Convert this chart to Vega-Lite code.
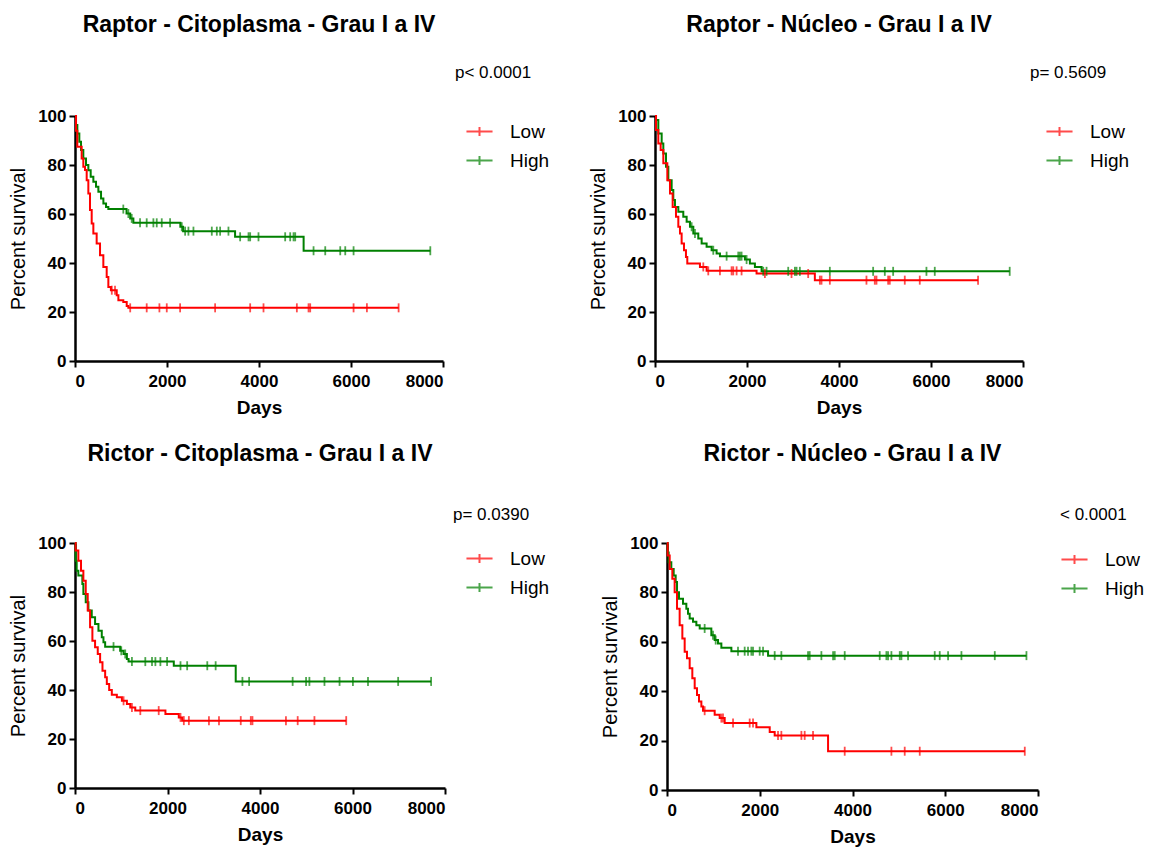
{
"$schema": "https://vega.github.io/schema/vega-lite/v6.json",
"background": "white",
"padding": {"left": 8, "top": 14, "right": 2, "bottom": 2},
"config": {
  "font": "Liberation Sans",
  "view": {"stroke": null},
  "axis": {"domainColor": "black", "domainWidth": 2.5, "tickColor": "black", "tickWidth": 2, "tickSize": 6, "labelFont": "Liberation Sans", "labelFontWeight": "bold", "labelFontSize": 17, "labelColor": "black", "labelPadding": 3, "grid": false, "titleColor": "black", "titleFont": "Liberation Sans", "format": "d"},
  "axisX": {"titleFontWeight": "bold", "titleFontSize": 19, "titlePadding": 9, "labelPadding": 6},
  "axisY": {"titleFontWeight": "normal", "titleFontSize": 20, "titlePadding": 9},
  "title": {"fontSize": 23, "fontWeight": "bold", "color": "black", "frame": "group", "anchor": "middle", "font": "Liberation Sans"},
  "legend": {"orient": "none", "titleFontSize": 17, "titleFontWeight": "normal", "titleColor": "black", "titleFont": "Liberation Sans", "labelFontSize": 19, "labelColor": "black", "labelFont": "Liberation Sans", "symbolType": "M-2,0H2M0,-0.7V0.7", "symbolSize": 170, "symbolStrokeWidth": 2, "rowPadding": 9, "labelOffset": 21, "padding": 0, "titleLimit": 300}
},
"datasets": {
"p1": [
{"g":"High","d":0,"s":100,"c":0},{"g":"High","d":22,"s":96.3,"c":0},{"g":"High","d":51,"s":92.9,"c":0},{"g":"High","d":94,"s":89.5,"c":0},{"g":"High","d":131,"s":86.1,"c":0},{"g":"High","d":181,"s":82.7,"c":0},{"g":"High","d":239,"s":80.0,"c":0},{"g":"High","d":290,"s":77.9,"c":0},{"g":"High","d":341,"s":75.2,"c":0},{"g":"High","d":399,"s":73.2,"c":0},{"g":"High","d":457,"s":71.1,"c":0},{"g":"High","d":508,"s":69.1,"c":0},{"g":"High","d":566,"s":66.3,"c":0},{"g":"High","d":617,"s":64.3,"c":0},{"g":"High","d":675,"s":62.9,"c":0},{"g":"High","d":725,"s":62.0,"c":0},{"g":"High","d":1050,"s":62.0,"c":1},{"g":"High","d":1120,"s":60.2,"c":0},{"g":"High","d":1160,"s":60.2,"c":1},{"g":"High","d":1200,"s":58.2,"c":0},{"g":"High","d":1233,"s":58.2,"c":1},{"g":"High","d":1269,"s":56.4,"c":0},{"g":"High","d":1414,"s":56.4,"c":1},{"g":"High","d":1559,"s":56.4,"c":1},{"g":"High","d":1704,"s":56.4,"c":1},{"g":"High","d":1777,"s":56.4,"c":1},{"g":"High","d":1886,"s":56.4,"c":1},{"g":"High","d":2067,"s":56.4,"c":1},{"g":"High","d":2290,"s":54.8,"c":0},{"g":"High","d":2321,"s":54.8,"c":1},{"g":"High","d":2350,"s":53.0,"c":0},{"g":"High","d":2394,"s":53.0,"c":1},{"g":"High","d":2466,"s":53.0,"c":1},{"g":"High","d":2575,"s":53.0,"c":1},{"g":"High","d":2974,"s":53.0,"c":1},{"g":"High","d":3083,"s":53.0,"c":1},{"g":"High","d":3155,"s":53.0,"c":1},{"g":"High","d":3336,"s":53.0,"c":1},{"g":"High","d":3480,"s":50.7,"c":0},{"g":"High","d":3590,"s":50.7,"c":1},{"g":"High","d":3772,"s":50.7,"c":1},{"g":"High","d":3808,"s":50.7,"c":1},{"g":"High","d":3989,"s":50.7,"c":1},{"g":"High","d":4569,"s":50.7,"c":1},{"g":"High","d":4678,"s":50.7,"c":1},{"g":"High","d":4751,"s":50.7,"c":1},{"g":"High","d":4787,"s":50.7,"c":1},{"g":"High","d":4970,"s":45.0,"c":0},{"g":"High","d":5186,"s":45.0,"c":1},{"g":"High","d":5440,"s":45.0,"c":1},{"g":"High","d":5766,"s":45.0,"c":1},{"g":"High","d":5875,"s":45.0,"c":1},{"g":"High","d":6056,"s":45.0,"c":1},{"g":"High","d":7724,"s":45.0,"c":1},
{"g":"Low","d":0,"s":100,"c":0},{"g":"Low","d":22,"s":94,"c":0},{"g":"Low","d":50,"s":87.5,"c":0},{"g":"Low","d":145,"s":82.7,"c":0},{"g":"Low","d":181,"s":79.3,"c":0},{"g":"Low","d":218,"s":78,"c":0},{"g":"Low","d":254,"s":73.8,"c":0},{"g":"Low","d":290,"s":68.4,"c":0},{"g":"Low","d":326,"s":61.6,"c":0},{"g":"Low","d":363,"s":56.1,"c":0},{"g":"Low","d":399,"s":52,"c":0},{"g":"Low","d":471,"s":48,"c":0},{"g":"Low","d":544,"s":43.2,"c":0},{"g":"Low","d":616,"s":38.4,"c":0},{"g":"Low","d":689,"s":34.3,"c":0},{"g":"Low","d":725,"s":30.2,"c":0},{"g":"Low","d":780,"s":28.9,"c":0},{"g":"Low","d":800,"s":28.9,"c":1},{"g":"Low","d":870,"s":28.9,"c":1},{"g":"Low","d":907,"s":26.8,"c":0},{"g":"Low","d":943,"s":24.8,"c":0},{"g":"Low","d":1050,"s":24.1,"c":0},{"g":"Low","d":1124,"s":22.4,"c":0},{"g":"Low","d":1160,"s":21.7,"c":0},{"g":"Low","d":1200,"s":21.7,"c":1},{"g":"Low","d":1559,"s":21.7,"c":1},{"g":"Low","d":1835,"s":21.7,"c":1},{"g":"Low","d":1995,"s":21.7,"c":1},{"g":"Low","d":2285,"s":21.7,"c":1},{"g":"Low","d":3046,"s":21.7,"c":1},{"g":"Low","d":3808,"s":21.7,"c":1},{"g":"Low","d":4098,"s":21.7,"c":1},{"g":"Low","d":4823,"s":21.7,"c":1},{"g":"Low","d":5077,"s":21.7,"c":1},{"g":"Low","d":5113,"s":21.7,"c":1},{"g":"Low","d":6056,"s":21.7,"c":1},{"g":"Low","d":6346,"s":21.7,"c":1},{"g":"Low","d":7035,"s":21.7,"c":1}
],
"p2": [
{"g":"High","d":0,"s":100,"c":0},{"g":"High","d":22,"s":98.4,"c":0},{"g":"High","d":72,"s":92.9,"c":0},{"g":"High","d":145,"s":88.8,"c":0},{"g":"High","d":181,"s":84.7,"c":0},{"g":"High","d":239,"s":79.3,"c":0},{"g":"High","d":290,"s":73.8,"c":0},{"g":"High","d":362,"s":69.8,"c":0},{"g":"High","d":398,"s":65.7,"c":0},{"g":"High","d":434,"s":62.9,"c":0},{"g":"High","d":507,"s":60.9,"c":0},{"g":"High","d":615,"s":58.9,"c":0},{"g":"High","d":688,"s":56.8,"c":0},{"g":"High","d":760,"s":54.8,"c":0},{"g":"High","d":796,"s":54.8,"c":1},{"g":"High","d":833,"s":52,"c":0},{"g":"High","d":869,"s":52,"c":1},{"g":"High","d":941,"s":50,"c":0},{"g":"High","d":1014,"s":48,"c":0},{"g":"High","d":1122,"s":46.6,"c":0},{"g":"High","d":1231,"s":45.2,"c":0},{"g":"High","d":1267,"s":45.2,"c":1},{"g":"High","d":1339,"s":43.9,"c":0},{"g":"High","d":1412,"s":42.8,"c":0},{"g":"High","d":1557,"s":42.8,"c":1},{"g":"High","d":1810,"s":42.8,"c":1},{"g":"High","d":1846,"s":42.8,"c":1},{"g":"High","d":1882,"s":42.8,"c":1},{"g":"High","d":1955,"s":41.4,"c":0},{"g":"High","d":1991,"s":41.4,"c":1},{"g":"High","d":2063,"s":39.8,"c":0},{"g":"High","d":2172,"s":38.4,"c":0},{"g":"High","d":2317,"s":36.6,"c":0},{"g":"High","d":2353,"s":36.6,"c":1},{"g":"High","d":2425,"s":36.6,"c":1},{"g":"High","d":2896,"s":36.6,"c":1},{"g":"High","d":3041,"s":36.6,"c":1},{"g":"High","d":3077,"s":36.6,"c":1},{"g":"High","d":3149,"s":36.6,"c":1},{"g":"High","d":3801,"s":36.6,"c":1},{"g":"High","d":4742,"s":36.6,"c":1},{"g":"High","d":4996,"s":36.6,"c":1},{"g":"High","d":5177,"s":36.6,"c":1},{"g":"High","d":5901,"s":36.6,"c":1},{"g":"High","d":6082,"s":36.6,"c":1},{"g":"High","d":7711,"s":36.6,"c":1},
{"g":"Low","d":0,"s":100,"c":0},{"g":"Low","d":22,"s":94.3,"c":0},{"g":"Low","d":72,"s":88.8,"c":0},{"g":"Low","d":123,"s":86.1,"c":0},{"g":"Low","d":181,"s":80.7,"c":0},{"g":"Low","d":268,"s":73.8,"c":0},{"g":"Low","d":326,"s":68.4,"c":0},{"g":"Low","d":384,"s":62.9,"c":0},{"g":"Low","d":456,"s":58.9,"c":0},{"g":"Low","d":507,"s":54.8,"c":0},{"g":"Low","d":543,"s":52,"c":0},{"g":"Low","d":579,"s":48,"c":0},{"g":"Low","d":630,"s":45.2,"c":0},{"g":"Low","d":673,"s":42.5,"c":0},{"g":"Low","d":702,"s":39.8,"c":0},{"g":"Low","d":977,"s":38.4,"c":0},{"g":"Low","d":1050,"s":38.4,"c":1},{"g":"Low","d":1122,"s":36.8,"c":0},{"g":"Low","d":1158,"s":36.8,"c":1},{"g":"Low","d":1412,"s":36.8,"c":1},{"g":"Low","d":1665,"s":36.8,"c":1},{"g":"Low","d":1701,"s":36.8,"c":1},{"g":"Low","d":1774,"s":36.8,"c":1},{"g":"Low","d":1882,"s":36.8,"c":1},{"g":"Low","d":2208,"s":35.7,"c":0},{"g":"Low","d":2389,"s":35.7,"c":1},{"g":"Low","d":2968,"s":35.7,"c":1},{"g":"Low","d":3330,"s":35.7,"c":1},{"g":"Low","d":3475,"s":33.0,"c":0},{"g":"Low","d":3584,"s":33.0,"c":1},{"g":"Low","d":3620,"s":33.0,"c":1},{"g":"Low","d":3801,"s":33.0,"c":1},{"g":"Low","d":4597,"s":33.0,"c":1},{"g":"Low","d":4778,"s":33.0,"c":1},{"g":"Low","d":4815,"s":33.0,"c":1},{"g":"Low","d":5068,"s":33.0,"c":1},{"g":"Low","d":5104,"s":33.0,"c":1},{"g":"Low","d":5430,"s":33.0,"c":1},{"g":"Low","d":5756,"s":33.0,"c":1},{"g":"Low","d":7023,"s":33.0,"c":1}
],
"p3": [
{"g":"High","d":0,"s":100,"c":0},{"g":"High","d":14,"s":92.8,"c":0},{"g":"High","d":36,"s":88.7,"c":0},{"g":"High","d":72,"s":86.7,"c":0},{"g":"High","d":159,"s":83.3,"c":0},{"g":"High","d":181,"s":79.2,"c":0},{"g":"High","d":232,"s":75.8,"c":0},{"g":"High","d":290,"s":72.4,"c":0},{"g":"High","d":362,"s":69.7,"c":0},{"g":"High","d":434,"s":66.9,"c":0},{"g":"High","d":507,"s":64.2,"c":0},{"g":"High","d":579,"s":61.5,"c":0},{"g":"High","d":615,"s":59.5,"c":0},{"g":"High","d":652,"s":57.7,"c":0},{"g":"High","d":833,"s":57.7,"c":1},{"g":"High","d":977,"s":56,"c":0},{"g":"High","d":1000,"s":56,"c":1},{"g":"High","d":1050,"s":54.7,"c":0},{"g":"High","d":1086,"s":54.7,"c":1},{"g":"High","d":1122,"s":52.7,"c":0},{"g":"High","d":1158,"s":51.6,"c":0},{"g":"High","d":1231,"s":51.6,"c":1},{"g":"High","d":1520,"s":51.6,"c":1},{"g":"High","d":1665,"s":51.6,"c":1},{"g":"High","d":1738,"s":51.6,"c":1},{"g":"High","d":1846,"s":51.6,"c":1},{"g":"High","d":1991,"s":51.6,"c":1},{"g":"High","d":2136,"s":49.9,"c":0},{"g":"High","d":2281,"s":49.9,"c":1},{"g":"High","d":2425,"s":49.9,"c":1},{"g":"High","d":2860,"s":49.9,"c":1},{"g":"High","d":3041,"s":49.9,"c":1},{"g":"High","d":3475,"s":43.5,"c":0},{"g":"High","d":3620,"s":43.5,"c":1},{"g":"High","d":3765,"s":43.5,"c":1},{"g":"High","d":4706,"s":43.5,"c":1},{"g":"High","d":4996,"s":43.5,"c":1},{"g":"High","d":5068,"s":43.5,"c":1},{"g":"High","d":5394,"s":43.5,"c":1},{"g":"High","d":5720,"s":43.5,"c":1},{"g":"High","d":6009,"s":43.5,"c":1},{"g":"High","d":6335,"s":43.5,"c":1},{"g":"High","d":6987,"s":43.5,"c":1},{"g":"High","d":7700,"s":43.5,"c":1},
{"g":"Low","d":0,"s":100,"c":0},{"g":"Low","d":14,"s":96.9,"c":0},{"g":"Low","d":72,"s":92.8,"c":0},{"g":"Low","d":130,"s":88.7,"c":0},{"g":"Low","d":181,"s":84.6,"c":0},{"g":"Low","d":232,"s":79.2,"c":0},{"g":"Low","d":275,"s":72.4,"c":0},{"g":"Low","d":326,"s":65.6,"c":0},{"g":"Low","d":376,"s":60.1,"c":0},{"g":"Low","d":434,"s":57.4,"c":0},{"g":"Low","d":492,"s":54.7,"c":0},{"g":"Low","d":543,"s":51.3,"c":0},{"g":"Low","d":594,"s":47.9,"c":0},{"g":"Low","d":652,"s":45.2,"c":0},{"g":"Low","d":688,"s":42.4,"c":0},{"g":"Low","d":739,"s":40,"c":0},{"g":"Low","d":796,"s":38.1,"c":0},{"g":"Low","d":905,"s":37,"c":0},{"g":"Low","d":1014,"s":35.6,"c":0},{"g":"Low","d":1050,"s":35.6,"c":1},{"g":"Low","d":1122,"s":34.3,"c":0},{"g":"Low","d":1195,"s":32.9,"c":0},{"g":"Low","d":1231,"s":32.9,"c":1},{"g":"Low","d":1303,"s":31.6,"c":0},{"g":"Low","d":1412,"s":31.6,"c":1},{"g":"Low","d":1810,"s":31.6,"c":1},{"g":"Low","d":1955,"s":30.2,"c":0},{"g":"Low","d":2244,"s":28.8,"c":0},{"g":"Low","d":2281,"s":28.8,"c":1},{"g":"Low","d":2317,"s":27.5,"c":0},{"g":"Low","d":2353,"s":27.5,"c":1},{"g":"Low","d":2462,"s":27.5,"c":1},{"g":"Low","d":2896,"s":27.5,"c":1},{"g":"Low","d":3113,"s":27.5,"c":1},{"g":"Low","d":3584,"s":27.5,"c":1},{"g":"Low","d":3801,"s":27.5,"c":1},{"g":"Low","d":3837,"s":27.5,"c":1},{"g":"Low","d":4561,"s":27.5,"c":1},{"g":"Low","d":4815,"s":27.5,"c":1},{"g":"Low","d":5177,"s":27.5,"c":1},{"g":"Low","d":5864,"s":27.5,"c":1}
],
"p4": [
{"g":"High","d":0,"s":100,"c":0},{"g":"High","d":14,"s":96.2,"c":0},{"g":"High","d":36,"s":92.2,"c":0},{"g":"High","d":93,"s":89.5,"c":0},{"g":"High","d":144,"s":86.8,"c":0},{"g":"High","d":187,"s":84.2,"c":0},{"g":"High","d":216,"s":80.1,"c":0},{"g":"High","d":259,"s":77.4,"c":0},{"g":"High","d":345,"s":75.4,"c":0},{"g":"High","d":417,"s":73.4,"c":0},{"g":"High","d":453,"s":71.4,"c":0},{"g":"High","d":489,"s":69.4,"c":0},{"g":"High","d":561,"s":68.1,"c":0},{"g":"High","d":633,"s":66.7,"c":0},{"g":"High","d":705,"s":65.4,"c":0},{"g":"High","d":812,"s":65.4,"c":1},{"g":"High","d":956,"s":62.7,"c":0},{"g":"High","d":992,"s":62.7,"c":1},{"g":"High","d":1028,"s":60.7,"c":0},{"g":"High","d":1050,"s":60.7,"c":1},{"g":"High","d":1100,"s":59.3,"c":0},{"g":"High","d":1172,"s":57.6,"c":0},{"g":"High","d":1388,"s":56.2,"c":0},{"g":"High","d":1531,"s":56.2,"c":1},{"g":"High","d":1675,"s":56.2,"c":1},{"g":"High","d":1747,"s":56.2,"c":1},{"g":"High","d":1819,"s":56.2,"c":1},{"g":"High","d":1855,"s":56.2,"c":1},{"g":"High","d":1999,"s":56.2,"c":1},{"g":"High","d":2071,"s":56.2,"c":1},{"g":"High","d":2179,"s":54.4,"c":0},{"g":"High","d":2322,"s":54.4,"c":1},{"g":"High","d":2466,"s":54.4,"c":1},{"g":"High","d":3041,"s":54.4,"c":1},{"g":"High","d":3077,"s":54.4,"c":1},{"g":"High","d":3329,"s":54.4,"c":1},{"g":"High","d":3581,"s":54.4,"c":1},{"g":"High","d":3617,"s":54.4,"c":1},{"g":"High","d":3832,"s":54.4,"c":1},{"g":"High","d":4587,"s":54.4,"c":1},{"g":"High","d":4731,"s":54.4,"c":1},{"g":"High","d":4767,"s":54.4,"c":1},{"g":"High","d":4839,"s":54.4,"c":1},{"g":"High","d":5019,"s":54.4,"c":1},{"g":"High","d":5055,"s":54.4,"c":1},{"g":"High","d":5198,"s":54.4,"c":1},{"g":"High","d":5773,"s":54.4,"c":1},{"g":"High","d":5881,"s":54.4,"c":1},{"g":"High","d":6061,"s":54.4,"c":1},{"g":"High","d":6349,"s":54.4,"c":1},{"g":"High","d":7068,"s":54.4,"c":1},{"g":"High","d":7751,"s":54.4,"c":1},
{"g":"Low","d":0,"s":100,"c":0},{"g":"Low","d":14,"s":94.9,"c":0},{"g":"Low","d":58,"s":89.5,"c":0},{"g":"Low","d":115,"s":85.5,"c":0},{"g":"Low","d":165,"s":80.1,"c":0},{"g":"Low","d":216,"s":73.4,"c":0},{"g":"Low","d":273,"s":66.7,"c":0},{"g":"Low","d":331,"s":61.3,"c":0},{"g":"Low","d":381,"s":56,"c":0},{"g":"Low","d":431,"s":53.3,"c":0},{"g":"Low","d":489,"s":49.3,"c":0},{"g":"Low","d":546,"s":45.2,"c":0},{"g":"Low","d":597,"s":41.2,"c":0},{"g":"Low","d":647,"s":38.5,"c":0},{"g":"Low","d":690,"s":35.8,"c":0},{"g":"Low","d":741,"s":33.8,"c":0},{"g":"Low","d":777,"s":32.1,"c":0},{"g":"Low","d":812,"s":32.1,"c":1},{"g":"Low","d":1028,"s":30.5,"c":0},{"g":"Low","d":1136,"s":29.1,"c":0},{"g":"Low","d":1172,"s":29.1,"c":1},{"g":"Low","d":1208,"s":29.1,"c":1},{"g":"Low","d":1244,"s":27.1,"c":0},{"g":"Low","d":1424,"s":27.1,"c":1},{"g":"Low","d":1783,"s":27.1,"c":1},{"g":"Low","d":1855,"s":27.1,"c":1},{"g":"Low","d":1927,"s":25.4,"c":0},{"g":"Low","d":2215,"s":23.5,"c":0},{"g":"Low","d":2322,"s":22.1,"c":0},{"g":"Low","d":2394,"s":22.1,"c":1},{"g":"Low","d":2466,"s":22.1,"c":1},{"g":"Low","d":2898,"s":22.1,"c":1},{"g":"Low","d":2969,"s":22.1,"c":1},{"g":"Low","d":3149,"s":22.1,"c":1},{"g":"Low","d":3473,"s":15.7,"c":0},{"g":"Low","d":3832,"s":15.7,"c":1},{"g":"Low","d":4839,"s":15.7,"c":1},{"g":"Low","d":5126,"s":15.7,"c":1},{"g":"Low","d":5450,"s":15.7,"c":1},{"g":"Low","d":7715,"s":15.7,"c":1}
]
},
"bounds": "flush",
"spacing": 427,
"resolve": {"scale": {"color": "independent"}, "legend": {"color": "independent"}},
"vconcat": [
{
"bounds": "flush",
"spacing": 212,
"resolve": {"scale": {"color": "independent"}, "legend": {"color": "independent"}},
"hconcat": [
{
"title": {"text": "Raptor - Citoplasma - Grau I a IV", "offset": 28},
"width": 368, "height": 245,
"data": {"name": "p1"},
"encoding": {
 "x": {"field": "d", "type": "quantitative", "scale": {"domain": [0, 8000], "nice": false}, "axis": {"values": [0, 2000, 4000, 6000, 8000], "title": "Days"}},
 "y": {"field": "s", "type": "quantitative", "scale": {"domain": [0, 100], "nice": false}, "axis": {"values": [0, 20, 40, 60, 80, 100], "title": "Percent survival"}},
 "color": {"field": "g", "type": "nominal", "scale": {"domain": ["Low", "High"], "range": ["#ff0000", "#008000"]}, "legend": {"title": "p< 0.0001", "legendX": 380, "legendY": -51, "titlePadding": 40, "symbolOffset": 15}}
},
"layer": [
 {"mark": {"type": "line", "interpolate": "step-after", "strokeWidth": 2}},
 {"transform": [{"filter": "datum.c == 1"}], "mark": {"type": "tick", "orient": "vertical", "size": 9, "thickness": 1.8}}
]
},
{
"title": {"text": "Raptor - Núcleo - Grau I a IV", "offset": 28},
"width": 368, "height": 245,
"data": {"name": "p2"},
"encoding": {
 "x": {"field": "d", "type": "quantitative", "scale": {"domain": [0, 8000], "nice": false}, "axis": {"values": [0, 2000, 4000, 6000, 8000], "title": "Days"}},
 "y": {"field": "s", "type": "quantitative", "scale": {"domain": [0, 100], "nice": false}, "axis": {"values": [0, 20, 40, 60, 80, 100], "title": "Percent survival"}},
 "color": {"field": "g", "type": "nominal", "scale": {"domain": ["Low", "High"], "range": ["#ff0000", "#008000"]}, "legend": {"title": "p= 0.5609", "legendX": 375, "legendY": -51, "titlePadding": 40, "symbolOffset": 20}}
},
"layer": [
 {"mark": {"type": "line", "interpolate": "step-after", "strokeWidth": 2}},
 {"transform": [{"filter": "datum.c == 1"}], "mark": {"type": "tick", "orient": "vertical", "size": 9, "thickness": 1.8}}
]
}
]
},
{
"bounds": "flush",
"spacing": 222,
"resolve": {"scale": {"color": "independent"}, "legend": {"color": "independent"}},
"hconcat": [
{
"title": {"text": "Rictor - Citoplasma - Grau I a IV", "offset": 41},
"width": 370, "height": 245,
"data": {"name": "p3"},
"encoding": {
 "x": {"field": "d", "type": "quantitative", "scale": {"domain": [0, 8000], "nice": false}, "axis": {"values": [0, 2000, 4000, 6000, 8000], "title": "Days"}},
 "y": {"field": "s", "type": "quantitative", "scale": {"domain": [0, 100], "nice": false}, "axis": {"values": [0, 20, 40, 60, 80, 100], "title": "Percent survival"}},
 "color": {"field": "g", "type": "nominal", "scale": {"domain": ["Low", "High"], "range": ["#ff0000", "#008000"]}, "legend": {"title": "p= 0.0390", "legendX": 378, "legendY": -36, "titlePadding": 25, "symbolOffset": 17}}
},
"layer": [
 {"mark": {"type": "line", "interpolate": "step-after", "strokeWidth": 2}},
 {"transform": [{"filter": "datum.c == 1"}], "mark": {"type": "tick", "orient": "vertical", "size": 9, "thickness": 1.8}}
]
},
{
"title": {"text": "Rictor - Núcleo - Grau I a IV", "offset": 41},
"width": 371, "height": 247,
"data": {"name": "p4"},
"encoding": {
 "x": {"field": "d", "type": "quantitative", "scale": {"domain": [0, 8000], "nice": false}, "axis": {"values": [0, 2000, 4000, 6000, 8000], "title": "Days"}},
 "y": {"field": "s", "type": "quantitative", "scale": {"domain": [0, 100], "nice": false}, "axis": {"values": [0, 20, 40, 60, 80, 100], "title": "Percent survival"}},
 "color": {"field": "g", "type": "nominal", "scale": {"domain": ["Low", "High"], "range": ["#ff0000", "#008000"]}, "legend": {"title": "< 0.0001", "legendX": 393, "legendY": -36, "titlePadding": 26, "symbolOffset": 5}}
},
"layer": [
 {"mark": {"type": "line", "interpolate": "step-after", "strokeWidth": 2}},
 {"transform": [{"filter": "datum.c == 1"}], "mark": {"type": "tick", "orient": "vertical", "size": 9, "thickness": 1.8}}
]
}
]
}
]
}
